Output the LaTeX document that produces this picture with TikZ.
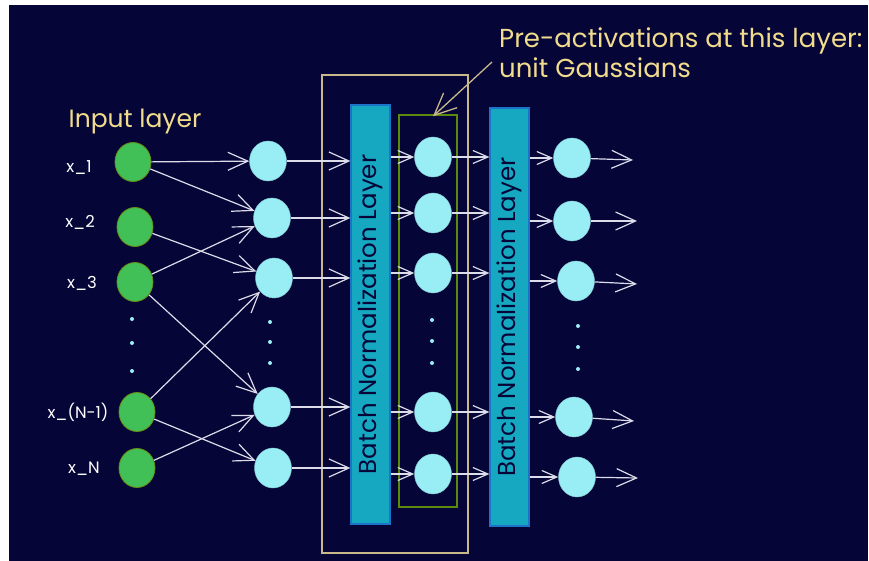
\documentclass[tikz,border=0pt]{standalone}
\usepackage{fontspec}
\setmainfont{Poppins}
\usetikzlibrary{arrows.meta,shapes.geometric}

\definecolor{bgnavy}{HTML}{060538}
\definecolor{ingreen}{HTML}{40C057}
\definecolor{ingreenline}{HTML}{6A8E12}
\definecolor{cyanfill}{HTML}{99EDF4}
\definecolor{bnfill}{HTML}{15A8C0}
\definecolor{bnline}{HTML}{1C74C8}
\definecolor{tanline}{HTML}{C9B98A}
\definecolor{limeline}{HTML}{5C8A0D}
\definecolor{notetext}{HTML}{F0DC8C}
\definecolor{wire}{HTML}{DCDCEA}

\tikzset{
  innode/.style={ellipse, fill=ingreen, draw=ingreenline, line width=0.8pt,
    minimum width=36pt, minimum height=39pt, inner sep=0pt},
  hidnode/.style={ellipse, fill=cyanfill, draw=cyanfill!85!black, line width=0.4pt,
    minimum width=37pt, minimum height=40pt, inner sep=0pt},
  bnbar/.style={rectangle, fill=bnfill, draw=bnline, line width=1.2pt,
    minimum width=39pt, inner sep=0pt},
  bntext/.style={text=bgnavy, font=\fontsize{24.5}{26}\selectfont, inner sep=0pt},
  xlabel/.style={text=white, font=\fontsize{16.5}{18}\selectfont, inner sep=0pt},
  notetextstyle/.style={text=notetext, font=\fontsize{26}{30}\selectfont, inner sep=0pt, align=left},
  arr/.style={draw=wire, line width=1.2pt,
    -{Straight Barb[length=20pt,width=18pt,line width=1.2pt]}},
  shortarr/.style={draw=wire, line width=1.2pt,
    -{Straight Barb[length=15pt,width=13pt,line width=1.2pt]}},
  notearr/.style={draw=tanline, line width=1.3pt,
    -{Straight Barb[length=22pt,width=20pt,line width=1.3pt]}},
  dot/.style={fill=cyanfill}
}

\begin{document}
\begin{tikzpicture}[x=1pt,y=-1pt]
  \useasboundingbox (0,0) rectangle (869,561);
  \fill[white] (0,0) rectangle (869,561);
  \fill[bgnavy] (9,5) rectangle (868,561);

  % grouping boxes
  \node[draw=tanline, line width=1.4pt, minimum width=146pt, minimum height=478pt, inner sep=0pt] (grp) at (395,314) {};
  \node[draw=limeline, line width=1.4pt, minimum width=58pt, minimum height=392pt, inner sep=0pt] (grn) at (428,311) {};

  % input layer
  \node[text=notetext, font=\fontsize{25}{28}\selectfont] (inlabel) at (135,122) {Input layer};
  \node[innode] (in1) at (133,162) {};
  \node[innode] (in2) at (135,227) {};
  \node[innode] (in3) at (135,282) {};
  \node[innode] (in4) at (137,412) {};
  \node[innode] (in5) at (137,468) {};
  \node[xlabel] (lx1) at (79,168) {x\_1};
  \node[xlabel] (lx2) at (80,222) {x\_2};
  \node[xlabel] (lx3) at (82,283) {x\_3};
  \node[xlabel] (lx4) at (78,412) {x\_(N-1)};
  \node[xlabel] (lx5) at (84,469) {x\_N};

  % first hidden layer
  \node[hidnode] (h1) at (268,161) {};
  \node[hidnode] (h2) at (272,218) {};
  \node[hidnode] (h3) at (274,278) {};
  \node[hidnode] (h4) at (272,407) {};
  \node[hidnode] (h5) at (273,468) {};

  % batch normalization bars
  \node[bnbar, minimum height=419pt] (bn1) at (370.5,314.5) {};
  \node[bntext, rotate=90] (bn1t) at (bn1) {Batch Normalization Layer};
  \node[bnbar, minimum height=418pt] (bn2) at (509.5,317) {};
  \node[bntext, rotate=90] (bn2t) at (bn2) {Batch Normalization Layer};

  % normalized units
  \node[hidnode] (m1) at (433,157) {};
  \node[hidnode] (m2) at (433,213) {};
  \node[hidnode] (m3) at (433,273) {};
  \node[hidnode] (m4) at (433,412) {};
  \node[hidnode] (m5) at (433,474) {};

  % next layer
  \node[hidnode] (o1) at (572,158) {};
  \node[hidnode] (o2) at (572,221) {};
  \node[hidnode] (o3) at (576,281) {};
  \node[hidnode] (o4) at (574,417) {};
  \node[hidnode] (o5) at (577,477) {};

  % ellipsis dots
  \foreach \x/\ya/\yb/\yc in {132/319/343/371, 270/322/342/363, 432/320/341/363, 578/326/347/369}{
    \fill[dot] (\x,\ya) circle (2pt);
    \fill[dot] (\x,\yb) circle (2pt);
    \fill[dot] (\x,\yc) circle (2pt);
  }

  % input -> hidden
  \draw[arr] (in1) -- (h1);
  \draw[arr] (in1) -- (h2);
  \draw[arr] (in2) -- (h3);
  \draw[arr] (in3) -- (h2);
  \draw[arr] (in3) -- (h4);
  \draw[arr] (in4) -- (h3);
  \draw[arr] (in4) -- (h5);
  \draw[arr] (in5) -- (h4);

  % hidden -> BN -> units -> BN -> next layer
  \foreach \i in {1,...,5}{
    \draw[arr] (h\i) -- (bn1.west |- h\i);
    \draw[shortarr] (bn1.east |- m\i) -- (m\i);
    \draw[shortarr] (m\i) -- (bn2.west |- m\i);
    \draw[shortarr] (bn2.east |- o\i) -- (o\i);
  }

  % outgoing arrows
  \coordinate (e1) at (633,160);
  \coordinate (e2) at (637,221);
  \coordinate (e3) at (637,284);
  \coordinate (e4) at (634,421);
  \coordinate (e5) at (638,478);
  \foreach \i in {1,...,5}{
    \draw[arr] (o\i) -- (e\i);
  }

  % annotation
  \node[notetextstyle, anchor=north west] (note) at (499,28) {Pre-activations at this layer:\\unit Gaussians};
  \coordinate (notetail) at (492,62);
  \draw[notearr] (notetail) -- ([xshift=5pt,yshift=-2pt]grn.north);
\end{tikzpicture}
\end{document}
